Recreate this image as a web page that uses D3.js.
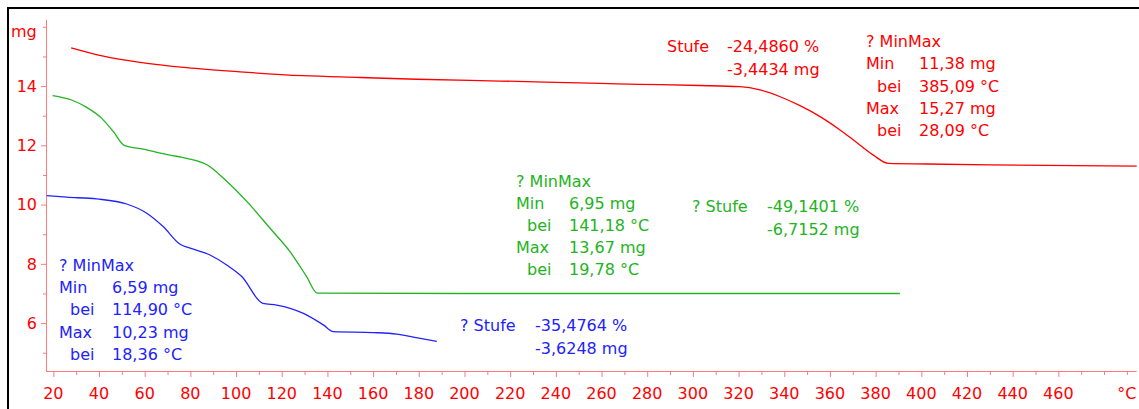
<!DOCTYPE html>
<html>
<head>
<meta charset="utf-8">
<script src="https://cdn.jsdelivr.net/npm/d3@7"></script>
<style>
  body { margin: 0; background: #fff; }
  svg text { font-family: "DejaVu Sans", Verdana, sans-serif; font-size: 16px; }
</style>
</head>
<body>
<div id="chart"></div>
<script>
// TGA curves: [temperature °C, mass mg]
const redCurve = [[27.8,15.29],[41.9,15.01],[58,14.80],[78.4,14.62],[101.7,14.48],[129.5,14.35],
  [154.3,14.29],[179.1,14.23],[215.6,14.17],[259.4,14.09],[276.8,14.06],[303,14.02],[320.6,13.98],
  [329.4,13.87],[338.2,13.64],[346.9,13.34],[355.7,12.97],[364.4,12.52],[370.3,12.18],[379,11.67],
  [385.6,11.39],[402.4,11.37],[430.5,11.34],[494.3,11.30]];
const greenCurve = [[19.7,13.68],[28,13.53],[34.6,13.28],[41.2,12.91],[46.3,12.46],[51,12.0],
  [59.4,11.87],[71.1,11.67],[78.4,11.56],[88.6,11.28],[94.5,10.89],[106.1,9.99],[114.9,9.20],
  [123.6,8.41],[130.9,7.57],[135.6,7.01],[200,7.0],[300,7.0],[390.6,7.0]];
const blueCurve = [[17.1,10.30],[25.9,10.25],[39,10.19],[52.1,10.02],[60.9,9.71],[68.2,9.25],
  [75.5,8.66],[79.9,8.53],[88.6,8.30],[95.9,7.96],[102.5,7.57],[111.7,6.67],[117.8,6.61],
  [129.5,6.33],[138.2,5.94],[142.6,5.71],[160.1,5.68],[170.3,5.63],[177.6,5.53],[187.9,5.38]];

const xTicks = d3.range(20, 491, 10);
const xLabels = d3.range(20, 461, 20);
const yTicks = d3.range(5, 17, 1);
const yLabels = [6, 8, 10, 12, 14];

// annotation texts
const redStufe = ["Stufe", "-24,4860 %", "-3,4434 mg"];
const redMinMax = ["? MinMax", "11,38 mg", "385,09 °C", "15,27 mg", "28,09 °C"];
const greenMinMax = ["? MinMax", "6,95 mg", "141,18 °C", "13,67 mg", "19,78 °C"];
const greenStufe = ["? Stufe", "-49,1401 %", "-6,7152 mg"];
const blueStufe = ["? Stufe", "-35,4764 %", "-3,6248 mg"];
const blueMinMax = ["? MinMax", "6,59 mg", "114,90 °C", "10,23 mg", "18,36 °C"];

const W = 1139, H = 409;
const RED = "#ff0000", GREEN = "#22b422", BLUE = "#2222ff", AXIS = "#ff7a7a";

const svg = d3.select("#chart").append("svg").attr("width", W).attr("height", H);

const x = d3.scaleLinear().domain([17.1, 494.3]).range([46.7, 1136.7]);
const y = d3.scaleLinear().domain([4.36, 16.23]).range([371.7, 20]);

// frame (top and left only)
svg.append("line").attr("x1", 7).attr("x2", W).attr("y1", 8).attr("y2", 8)
  .attr("stroke", "#000").attr("stroke-width", 2);
svg.append("line").attr("x1", 8).attr("x2", 8).attr("y1", 7).attr("y2", H)
  .attr("stroke", "#000").attr("stroke-width", 2);

// x axis
const xAxis = svg.append("g").attr("transform", "translate(0,371.5)")
  .call(d3.axisBottom(x).tickValues(xTicks).tickSizeOuter(0)
    .tickSize(0).tickFormat(""));
xAxis.select(".domain").attr("stroke", AXIS).attr("d", "M46.5,0H1136.7");
xAxis.selectAll(".tick line")
  .attr("stroke", AXIS)
  .attr("y2", d => xLabels.includes(d) ? 5.5 : 3.5);
svg.selectAll(".xlab").data(xLabels).enter().append("text")
  .attr("class", "xlab")
  .attr("x", d => x(d)).attr("y", 399)
  .attr("text-anchor", "middle").attr("fill", RED)
  .text(d => d);
svg.append("text").attr("x", x(490)).attr("y", 399)
  .attr("text-anchor", "middle").attr("fill", RED).text("°C");

// y axis
const yAxis = svg.append("g").attr("transform", "translate(46.5,0)")
  .call(d3.axisLeft(y).tickValues(yTicks).tickSize(0).tickFormat(""));
yAxis.select(".domain").attr("stroke", AXIS).attr("d", "M0,20V372");
yAxis.selectAll(".tick line")
  .attr("stroke", AXIS)
  .attr("x2", d => yLabels.includes(d) ? -5.5 : -3.5);
svg.selectAll(".ylab").data(yLabels).enter().append("text")
  .attr("class", "ylab")
  .attr("x", 37).attr("y", d => y(d)).attr("dy", "0.36em")
  .attr("text-anchor", "end").attr("fill", RED)
  .text(d => d);
svg.append("text").attr("x", 11).attr("y", 37).attr("fill", RED).text("mg");

// curves
const line = d3.line().curve(d3.curveMonotoneX).x(d => x(d[0])).y(d => y(d[1]));
[[redCurve, RED], [greenCurve, GREEN], [blueCurve, BLUE]].forEach(([data, col]) => {
  svg.append("path").datum(data)
    .attr("d", line)
    .attr("fill", "none")
    .attr("stroke", col)
    .attr("stroke-width", 1.3);
});

// annotations
function stufe(t, col, lx, vx, y0) {
  svg.append("text").attr("x", lx).attr("y", y0).attr("fill", col).text(t[0]);
  svg.append("text").attr("x", vx).attr("y", y0).attr("fill", col).text(t[1]);
  svg.append("text").attr("x", vx).attr("y", y0 + 22.5).attr("fill", col).text(t[2]);
}
function minmax(t, col, lx, bx, vx, y0, lh) {
  const g = svg.append("g").attr("fill", col);
  g.append("text").attr("x", lx).attr("y", y0).text(t[0]);
  const names = ["Min", "bei", "Max", "bei"];
  names.forEach((n, i) => {
    const yy = y0 + lh * (i + 1);
    g.append("text").attr("x", n === "bei" ? bx : lx).attr("y", yy).text(n);
    g.append("text").attr("x", vx).attr("y", yy).text(t[i + 1]);
  });
}

stufe(redStufe, RED, 667, 727, 52);
minmax(redMinMax, RED, 866, 877, 919, 47, 22.3);
minmax(greenMinMax, GREEN, 516, 527, 569, 187, 22);
stufe(greenStufe, GREEN, 692, 767, 212);
stufe(blueStufe, BLUE, 460, 535, 331);
minmax(blueMinMax, BLUE, 59, 70, 112, 271, 22.2);
</script>
</body>
</html>
